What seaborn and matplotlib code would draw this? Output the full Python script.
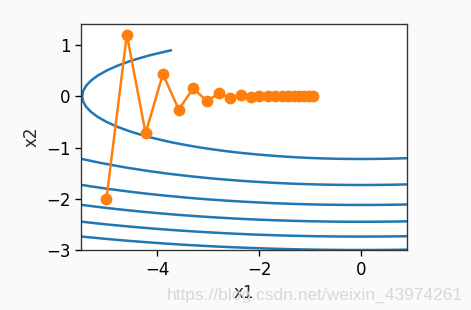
import numpy as np
import pandas as pd
import matplotlib
matplotlib.use("Agg")
import matplotlib.pyplot as plt
import seaborn as sns

# Gradient-descent trace (x1, x2)
trace_x1 = [-5.0, -4.6, -4.232, -3.893, -3.582, -3.295, -3.032, -2.789, -2.566,
            -2.361, -2.172, -1.998, -1.838, -1.691, -1.556, -1.432, -1.317,
            -1.212, -1.115, -1.025, -0.943]
trace_x2 = [-2.0, 1.2, -0.72, 0.432, -0.259, 0.156, -0.093, 0.056, -0.034,
            0.020, -0.012, 0.007, -0.004, 0.003, -0.002, 0.001, 0.0, 0.0,
            0.0, 0.0, 0.0]

# Objective surface for the contour lines
coef_x1 = 0.1
coef_x2 = 2.0
grid_x1 = np.arange(-5.5, 1.0, 0.1)
grid_x2 = np.arange(-3.0, 1.0, 0.1)
contour_levels = [0, 3, 6, 9, 12, 15, 18, 21]

sns.set_style("ticks")
plt.rcParams.update({
    "font.family": ["DejaVu Sans"],
    "font.size": 12,
    "axes.linewidth": 0.96,
    "xtick.major.width": 0.96,
    "ytick.major.width": 0.96,
    "xtick.major.size": 4.2,
    "ytick.major.size": 4.2,
    "axes.edgecolor": "black",
    "xtick.color": "black",
    "ytick.color": "black",
})

fig = plt.figure(figsize=(4.71, 3.10), dpi=100, facecolor="#fafafa")
ax = fig.add_axes([81 / 471, 1 - 250 / 310, (407 - 81) / 471, (250 - 24) / 310])
ax.set_facecolor("white")

g1, g2 = np.meshgrid(grid_x1, grid_x2)
z = coef_x1 * g1 ** 2 + coef_x2 * g2 ** 2
ax.contour(g1, g2, z, levels=contour_levels, colors="#1f77b4", linewidths=1.8)

df = pd.DataFrame({"x1": trace_x1, "x2": trace_x2})
sns.lineplot(data=df, x="x1", y="x2", sort=False, ax=ax, color="#ff7f0e",
             marker="o", markersize=8.5, markeredgewidth=0, linewidth=1.8)

ax.set_xlim(-5.5, 0.9)
ax.set_ylim(-3.0, 1.41)
ax.set_xticks([-4, -2, 0])
ax.set_yticks([-3, -2, -1, 0, 1])
ax.set_xlabel("x1", labelpad=4)
ax.set_ylabel("x2", labelpad=4)
for s in ax.spines.values():
    s.set_visible(True)
    s.set_color("#333333")

fig.text(463 / 471, 1 - 300 / 310, "https://blog.csdn.net/weixin_43974261",
         ha="right", va="baseline", fontsize=12.5, color="#d8d8d8",
         family=["Liberation Sans", "DejaVu Sans"])

fig.savefig("out.png", dpi=100, facecolor=fig.get_facecolor())
